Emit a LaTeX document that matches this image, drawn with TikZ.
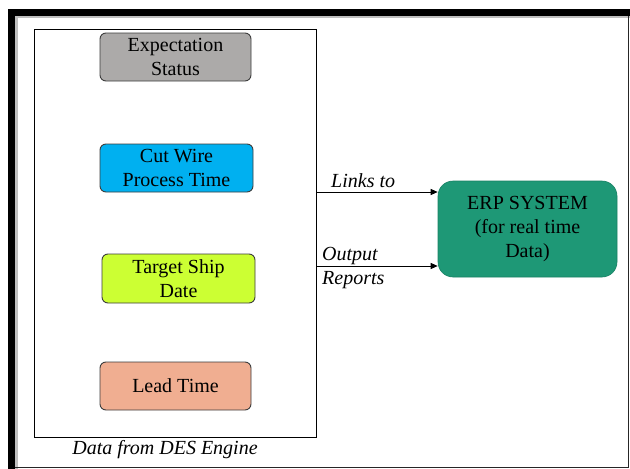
\documentclass[tikz,border=0pt]{standalone}
\usepackage{fontspec}
\setmainfont{LiberationSerif}[
  Extension=.ttf,
  UprightFont=*-Regular,
  ItalicFont=*-Italic,
  BoldFont=*-Bold,
  BoldItalicFont=*-BoldItalic]
\usetikzlibrary{arrows.meta}
\definecolor{boxgray}{RGB}{172,170,169}
\definecolor{boxblue}{RGB}{0,176,240}
\definecolor{boxlime}{RGB}{204,255,51}
\definecolor{boxsalmon}{RGB}{240,174,145}
\definecolor{erpteal}{RGB}{30,152,118}
\definecolor{edgegray}{RGB}{60,60,60}
\tikzset{
  databox/.style={draw=edgegray, line width=0.9pt, rounded corners=6pt,
    minimum width=151pt, minimum height=48pt, align=center,
    font=\fontsize{20}{24}\selectfont, inner sep=0pt},
  erpbox/.style={draw=erpteal!85!black, line width=0.6pt, rounded corners=15pt,
    fill=erpteal, minimum width=179pt, minimum height=96pt, align=center,
    font=\fontsize{20}{24}\selectfont, inner sep=0pt},
  link/.style={line width=0.9pt, -{Triangle[length=7pt,width=6pt]}},
  lbl/.style={font=\fontsize{20}{24}\selectfont\itshape, inner sep=0pt},
}
\begin{document}
\begin{tikzpicture}[x=1pt,y=-1pt]
  \useasboundingbox (0,0) rectangle (630,469);
  % page frame: heavy top and left edges with a soft shadow, thin right and bottom edges
  \fill[black!25] (15,15) rectangle (630,18);
  \fill[black!25] (15,15) rectangle (18,469);
  \draw[line width=0.8pt, black!85] (628,12) -- (628,467.5) -- (12,467.5);
  \fill[black] (8,9) rectangle (630,15.5);
  \fill[black] (8,9) rectangle (15,469);

  % container for the engine data
  \node[draw, line width=0.8pt, minimum width=282pt, minimum height=408pt, inner sep=0pt]
    (engine) at (175,233) {};
  \node[lbl] (enginelbl) at (165,450) {Data from DES Engine};

  % data items
  \node[databox, fill=boxgray]   (exp)  at (175.5,57)  {Expectation\\Status};
  \node[databox, fill=boxblue, minimum width=153pt] (cut)  at (176.5,168) {Cut Wire\\Process Time};
  \node[databox, fill=boxlime, minimum width=153pt, minimum height=49pt] (ship) at (178.5,278.5) {Target Ship\\Date};
  \node[databox, fill=boxsalmon] (lead) at (175.5,386) {Lead Time};

  % ERP system
  \node[erpbox] (erp) at (527.5,229) {ERP SYSTEM\\(for real time\\Data)};

  % connectors from the container to the ERP system
  \coordinate (l1) at (engine.east |- 0,192);
  \coordinate (l2) at (engine.east |- 0,266);
  \draw[link] (l1) -- (erp.west |- l1);
  \draw[link] (l2) -- (erp.west |- l2);
  \node[lbl, anchor=base west] (linkslbl) at (331,187) {Links to};
  \node[lbl, anchor=base west] (outlbl) at (322,260) {Output};
  \node[lbl, anchor=base west] (replbl) at (322,284) {Reports};
\end{tikzpicture}
\end{document}
